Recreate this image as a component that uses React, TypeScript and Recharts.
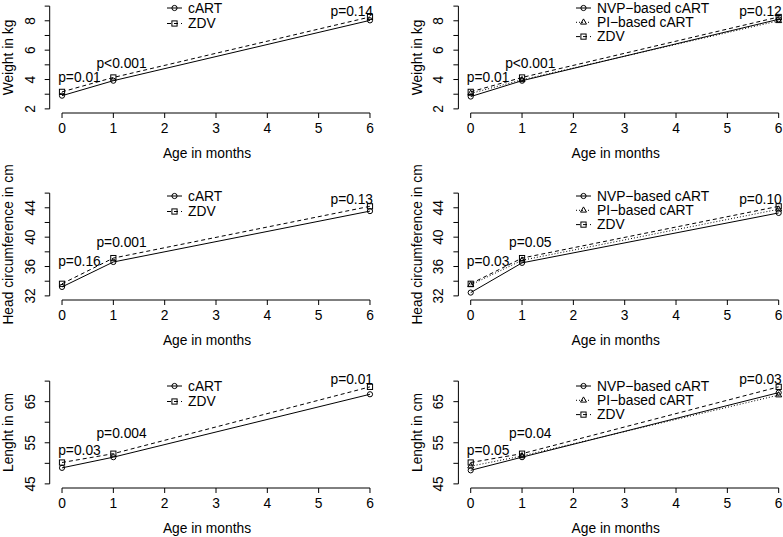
import { ComposedChart, Line, XAxis, YAxis, ReferenceLine, ReferenceDot, Legend } from 'recharts'

// ages at which the infants were measured
const AGES = [0, 1, 6]
const X_TICKS = [0, 1, 2, 3, 4, 5, 6]
const X_DOMAIN: [number, number] = [-0.24, 6.24]

const WEIGHT_CART = [2.9, 3.92, 8.03]
const WEIGHT_ZDV = [3.16, 4.14, 8.26]
const WEIGHT_NVP = [2.84, 3.92, 8.1]
const WEIGHT_PI = [3.05, 3.98, 8.0]
const WEIGHT_TICKS = [2, 3, 4, 5, 6, 7, 8, 9]
const WEIGHT_LABELS = [2, 4, 6, 8]

const HEAD_CART = [33.22, 36.62, 43.55]
const HEAD_ZDV = [33.65, 37.15, 44.2]
const HEAD_NVP = [32.45, 36.5, 43.3]
const HEAD_PI = [33.5, 36.85, 43.8]
const HEAD_TICKS = [32, 34, 36, 38, 40, 42, 44, 46]
const HEAD_LABELS = [32, 36, 40, 44]

const LENGTH_CART = [48.9, 51.5, 66.8]
const LENGTH_ZDV = [50.2, 52.35, 68.6]
const LENGTH_NVP = [48.3, 51.5, 67.2]
const LENGTH_PI = [49.3, 51.8, 66.6]
const LENGTH_TICKS = [45, 50, 55, 60, 65, 70]
const LENGTH_LABELS = [45, 55, 65]

// p-value annotations, placed in data coordinates
const P_X = [0.34, 1.16, 5.645]
const WEIGHT_P_Y = [4.13, 5.08, 8.61]
const HEAD_P_Y = [36.72, 39.24, 45.18]
const LENGTH_P_Y = [53.15, 57.3, 70.3]
const WEIGHT_P_TWO = ['p=0.01', 'p<0.001', 'p=0.14']
const WEIGHT_P_THREE = ['p=0.01', 'p<0.001', 'p=0.12']
const HEAD_P_TWO = ['p=0.16', 'p=0.001', 'p=0.13']
const HEAD_P_THREE = ['p=0.03', 'p=0.05', 'p=0.10']
const LENGTH_P_TWO = ['p=0.03', 'p=0.004', 'p=0.01']
const LENGTH_P_THREE = ['p=0.05', 'p=0.04', 'p=0.03']

const FONT = '"Liberation Sans", Arial, Helvetica, sans-serif'
const FS = 13.8

type Marker = 'circle' | 'triangle' | 'square'
interface Series { key: string; name: string; dash?: string; marker: Marker; values: number[] }

const cart = (values: number[]): Series => ({ key: 'cart', name: 'cART', marker: 'circle', values })
const nvp = (values: number[]): Series => ({ key: 'nvp', name: 'NVP−based cART', marker: 'circle', values })
const pi = (values: number[]): Series => ({ key: 'pi', name: 'PI−based cART', marker: 'triangle', dash: '1 2', values })
const zdv = (values: number[]): Series => ({ key: 'zdv', name: 'ZDV', marker: 'square', dash: '4 3', values })

// page geometry (R plot regions)
const PLOT_TOPS = [1.8, 189.2, 376.6]
const PLOT_H = 111
const PLOT_W = 332.6
const MARGIN_TOP = 10
const XAXIS_H = 50
const CHART_H = MARGIN_TOP + PLOT_H + XAXIS_H
const LEGEND_Y = [8, 196, 386.5]
const SIDES = {
  left: { chartLeft: 0, width: 392, axisWidth: 49.7, legendX: 166.5, spacing: 15.5 },
  right: { chartLeft: 392, width: 410, axisWidth: 66.4, legendX: 576, spacing: 14.3 },
}

function MarkerShape({ kind, cx, cy }: { kind: Marker; cx: number; cy: number }) {
  if (kind === 'circle') return <circle cx={cx} cy={cy} r={2.6} fill="none" stroke="#000" strokeWidth={1} />
  if (kind === 'square')
    return <rect x={cx - 2.6} y={cy - 2.6} width={5.2} height={5.2} fill="none" stroke="#000" strokeWidth={1} />
  return (
    <polygon
      points={`${cx},${cy - 3.4} ${cx - 3},${cy + 1.8} ${cx + 3},${cy + 1.8}`}
      fill="none" stroke="#000" strokeWidth={1}
    />
  )
}

function LegendBox({ series, spacing }: { series: Series[]; spacing: number }) {
  return (
    <svg width={170} height={series.length * spacing + 10} style={{ display: 'block', overflow: 'visible' }}>
      {series.map((s, i) => {
        const y = 7 + i * spacing
        return (
          <g key={s.key}>
            <line x1={1} x2={16} y1={y} y2={y} stroke="#000" strokeWidth={1} strokeDasharray={s.dash} />
            <MarkerShape kind={s.marker} cx={8.5} cy={y} />
            <text x={22} y={y} dominantBaseline="central" fontFamily={FONT} fontSize={FS} fill="#000">{s.name}</text>
          </g>
        )
      })}
    </svg>
  )
}

interface PanelProps {
  row: number
  side: 'left' | 'right'
  yTitle: string
  yTicks: number[]
  yLabels: number[]
  series: Series[]
  pLabels: string[]
  pY: number[]
}

function Panel({ row, side, yTitle, yTicks, yLabels, series, pLabels, pY }: PanelProps) {
  const g = SIDES[side]
  const chartTop = PLOT_TOPS[row] - MARGIN_TOP
  const yLo = yTicks[0]
  const yHi = yTicks[yTicks.length - 1]
  const ext = (yHi - yLo) * 0.04
  const yDomain: [number, number] = [yLo - ext, yHi + ext]
  const data = AGES.map((age, i) => {
    const r: Record<string, number> = { age }
    series.forEach((s) => { r[s.key] = s.values[i] })
    return r
  })

  return (
    <div style={{ position: 'absolute', left: g.chartLeft, top: chartTop }}>
      <ComposedChart
        width={g.width} height={CHART_H} data={data}
        margin={{ top: MARGIN_TOP, right: g.width - g.axisWidth - PLOT_W, bottom: 0, left: 0 }}
      >
        <XAxis
          dataKey="age" type="number" domain={X_DOMAIN} ticks={X_TICKS} interval={0}
          allowDataOverflow axisLine={false} tickLine={{ stroke: '#000' }} tickSize={5} height={XAXIS_H}
          tick={(p: any) => (
            <text x={p.x} y={p.y + 8} textAnchor="middle" dominantBaseline="central" fontFamily={FONT} fontSize={FS} fill="#000">
              {p.payload.value}
            </text>
          )}
          label={(p: any) => {
            const vb = p.viewBox
            return (
              <text x={vb.x + vb.width / 2 - 9} y={vb.y + 40} textAnchor="middle" dominantBaseline="central" fontFamily={FONT} fontSize={FS} fill="#000">
                Age in months
              </text>
            )
          }}
        />
        <YAxis
          type="number" domain={yDomain} ticks={yTicks} interval={0} allowDataOverflow
          width={g.axisWidth} axisLine={false} tickLine={{ stroke: '#000' }} tickSize={5}
          tick={(p: any) => {
            if (!yLabels.includes(p.payload.value)) return <g />
            const x = p.x - 12.5
            return (
              <text x={x} y={p.y} transform={`rotate(-90 ${x} ${p.y})`} textAnchor="middle" dominantBaseline="central" fontFamily={FONT} fontSize={FS} fill="#000">
                {p.payload.value}
              </text>
            )
          }}
          label={(p: any) => {
            const vb = p.viewBox
            const x = vb.x + vb.width - 41
            const y = vb.y + vb.height / 2
            return (
              <text x={x} y={y} transform={`rotate(-90 ${x} ${y})`} textAnchor="middle" dominantBaseline="central" fontFamily={FONT} fontSize={FS} fill="#000">
                {yTitle}
              </text>
            )
          }}
        />
        {/* R draws its axis lines only between the first and the last tick */}
        <ReferenceLine segment={[{ x: X_TICKS[0], y: yDomain[0] }, { x: X_TICKS[X_TICKS.length - 1], y: yDomain[0] }]} stroke="#000" strokeWidth={1} ifOverflow="visible" />
        <ReferenceLine segment={[{ x: X_DOMAIN[0], y: yLo }, { x: X_DOMAIN[0], y: yHi }]} stroke="#000" strokeWidth={1} ifOverflow="visible" />
        {series.map((s) => (
          <Line
            key={s.key} dataKey={s.key} name={s.name} type="linear"
            stroke="#000" strokeWidth={1} strokeDasharray={s.dash}
            dot={(p: any) => <MarkerShape key={`${s.key}-${p.index}`} kind={s.marker} cx={p.cx} cy={p.cy} />}
            activeDot={false} isAnimationActive={false}
          />
        ))}
        {pLabels.map((lab, i) => (
          <ReferenceDot
            key={lab + i} x={P_X[i]} y={pY[i]} r={0} ifOverflow="visible"
            shape={(p: any) => (
              <text x={p.cx} y={p.cy} textAnchor="middle" dominantBaseline="central" fontFamily={FONT} fontSize={FS} fill="#000">
                {lab}
              </text>
            )}
          />
        ))}
        <Legend
          layout="horizontal" verticalAlign="middle" align="center"
          wrapperStyle={{ left: g.legendX - g.chartLeft - 1, top: LEGEND_Y[row] - chartTop - 7, width: 170 }}
          content={() => <LegendBox series={series} spacing={g.spacing} />}
        />
      </ComposedChart>
    </div>
  )
}

export default function App() {
  return (
    <div
      style={{
        position: 'absolute', left: 0, top: 0, width: 783, height: 537,
        overflow: 'hidden', background: '#fff', fontFamily: FONT,
      }}
    >
      {/* the long y titles reach past the top of their chart's svg */}
      <style>{'.recharts-surface { overflow: visible; } .recharts-wrapper { overflow: visible; }'}</style>
      <Panel row={0} side="left" yTitle="Weight in kg" yTicks={WEIGHT_TICKS} yLabels={WEIGHT_LABELS}
        series={[cart(WEIGHT_CART), zdv(WEIGHT_ZDV)]} pLabels={WEIGHT_P_TWO} pY={WEIGHT_P_Y} />
      <Panel row={0} side="right" yTitle="Weight in kg" yTicks={WEIGHT_TICKS} yLabels={WEIGHT_LABELS}
        series={[nvp(WEIGHT_NVP), pi(WEIGHT_PI), zdv(WEIGHT_ZDV)]} pLabels={WEIGHT_P_THREE} pY={WEIGHT_P_Y} />
      <Panel row={1} side="left" yTitle="Head circumference in cm" yTicks={HEAD_TICKS} yLabels={HEAD_LABELS}
        series={[cart(HEAD_CART), zdv(HEAD_ZDV)]} pLabels={HEAD_P_TWO} pY={HEAD_P_Y} />
      <Panel row={1} side="right" yTitle="Head circumference in cm" yTicks={HEAD_TICKS} yLabels={HEAD_LABELS}
        series={[nvp(HEAD_NVP), pi(HEAD_PI), zdv(HEAD_ZDV)]} pLabels={HEAD_P_THREE} pY={HEAD_P_Y} />
      <Panel row={2} side="left" yTitle="Lenght in cm" yTicks={LENGTH_TICKS} yLabels={LENGTH_LABELS}
        series={[cart(LENGTH_CART), zdv(LENGTH_ZDV)]} pLabels={LENGTH_P_TWO} pY={LENGTH_P_Y} />
      <Panel row={2} side="right" yTitle="Lenght in cm" yTicks={LENGTH_TICKS} yLabels={LENGTH_LABELS}
        series={[nvp(LENGTH_NVP), pi(LENGTH_PI), zdv(LENGTH_ZDV)]} pLabels={LENGTH_P_THREE} pY={LENGTH_P_Y} />
    </div>
  )
}
